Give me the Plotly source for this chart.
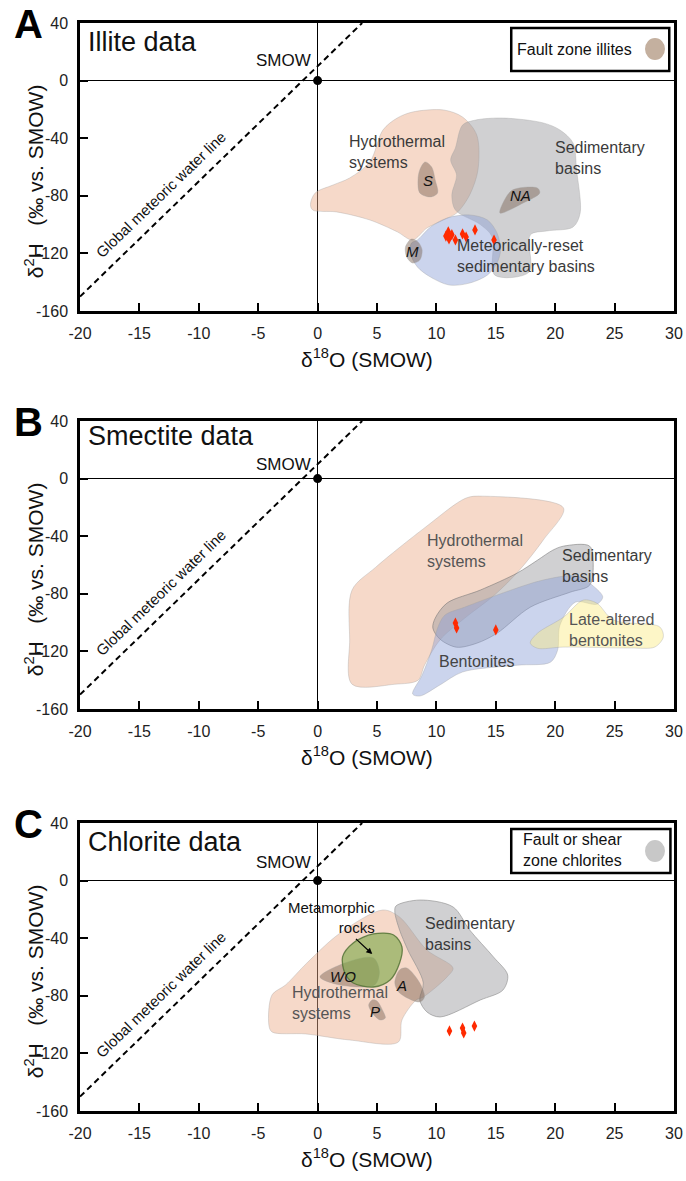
import plotly.graph_objects as go

FONT = "Liberation Sans, Arial, Helvetica, sans-serif"

# ---- axes -------------------------------------------------------------
x_range = [-20, 30]
y_range = [-160, 40]
x_ticks = [-20, -15, -10, -5, 0, 5, 10, 15, 20, 25, 30]
y_ticks = [-160, -120, -80, -40, 0, 40]
x_tick_labels = ["-20", "-15", "-10", "-5", "0", "5", "10", "15", "20", "25", "30"]
y_tick_labels = ["-160", "-120", "-80", "-40", "0", "40"]

# Global meteoric water line (dD = 8 d18O + 10), plotted between its end points
gmwl_x = [-20, 3.75]
gmwl_y = [-150, 40]

# Standard mean ocean water
smow_x = [0]
smow_y = [0]

# ---- A: illite fields (d18O, dD) -----------------------------------------
ill_hydro_x = [-0.6, -0.2, 1.3, 2.7, 4.4, 5.5, 6.7, 8.0, 10.6, 12.2, 13.4, 13.5, 12.8, 11.7, 10.6, 9.2, 8.0, 6.7, 4.4, 1.6, -0.4]
ill_hydro_y = [-86, -78, -72.5, -67.6, -56.5, -34.3, -26, -21.8, -20.4, -25.3, -37.8, -62, -79.4, -92, -96.8, -102.4, -110.7, -105, -96.8, -91.2, -89.9]

ill_sed_x = [12.2, 13.3, 15.6, 19.0, 20.4, 21.5, 21.8, 22.1, 21.5, 19.3, 17.9, 17.8, 14.9, 14.7, 13.7, 11.6, 11.3, 11.7, 11.2, 11.6]
ill_sed_y = [-30.9, -27.4, -26, -29.4, -34.3, -43.3, -62, -92, -101.7, -104.4, -107.2, -133, -135, -108.6, -100, -89.9, -79.4, -65.7, -55.1, -46.8]

ill_reset_x = [8.4, 9.5, 10.9, 12.8, 14.3, 15.1, 15.4, 15.1, 14.3, 12.8, 11.1, 9.5, 8.4, 7.8, 7.9]
ill_reset_y = [-110.7, -101.7, -95.4, -93.3, -96.8, -105.8, -117.6, -126.7, -135, -140.6, -142, -136.4, -129.4, -119.7, -112.8]

# fault zone illites: S, NA, M
ill_fault_s_x = [9.05, 9.6, 9.9, 10.1, 9.5, 8.6, 8.45, 8.6]
ill_fault_s_y = [-56.5, -60, -69, -78, -80.8, -78, -69, -62]
ill_fault_na_x = [16.4, 18.5, 18.7, 17.3, 15.35, 15.6]
ill_fault_na_y = [-76, -74.6, -78, -85, -92, -85]
ill_fault_m_x = [7.9, 8.45, 8.8, 8.6, 8.0, 7.5, 7.4]
ill_fault_m_y = [-110, -112, -117.6, -124.6, -126.7, -122.5, -115.5]

ill_samples_x = [10.8, 11.06, 11.3, 11.6, 11.0, 12.2, 12.5, 13.25, 14.85]
ill_samples_y = [-108, -110, -107, -110.7, -105, -106.5, -108.6, -103.7, -110.7]

# ---- B: smectite fields --------------------------------------------------
sme_hydro_x = [2.9, 4.9, 9.1, 12.5, 13.9, 20.7, 19.0, 17.0, 14.9, 12.4, 10.3, 9.0, 8.45, 6.5, 2.9, 2.7]
sme_hydro_y = [-77.4, -61.5, -33.6, -13.5, -12.2, -20.4, -42.6, -63.5, -80.8, -96.8, -112, -129.6, -140, -142.8, -142.8, -112]

sme_sed_x = [9.9, 10.9, 13.7, 16.8, 18.5, 19.8, 20.7, 22.9, 23.2, 22.9, 21.25, 17.9, 15.1, 13.4, 11.7, 10.3, 9.7]
sme_sed_y = [-96.9, -86.4, -77.4, -65.6, -56.7, -49.7, -46.9, -46.9, -60, -74, -78.9, -89.3, -107.4, -114.3, -117.1, -111.5, -103.8]

sme_bent_x = [8.0, 8.8, 9.6, 10.1, 10.7, 12.4, 15.6, 19.0, 21.8, 23.2, 24.0, 23.5, 21.7, 20.4, 20.2, 19.6, 16.8, 12.2, 10.3, 8.6]
sme_bent_y = [-149.6, -136.4, -119, -103.8, -94.9, -89.2, -79.4, -70.4, -67.7, -74.6, -82.2, -87.2, -85.8, -101.8, -119.2, -127.5, -129.6, -134.3, -143.3, -151]

sme_late_x = [17.9, 18.5, 20.7, 22.35, 23.5, 24.9, 28.8, 29.1, 28.4, 26.3, 20.7, 18.5]
sme_late_y = [-114.2, -107.4, -96.2, -84.4, -86.5, -98.2, -103, -110, -116.9, -117.6, -117, -117.8]

sme_samples_x = [11.6, 11.7, 15.0]
sme_samples_y = [-100.3, -103.75, -105.1]

# ---- C: chlorite fields --------------------------------------------------
chl_hydro_x = [-3.84, -4.1, -3.84, -0.98, 2.7, 6.8, 7.1, 8.3, 8.9, 10.9, 11.4, 9.2, 6.9, 5.5, 1.9, -0.9, -2.7]
chl_hydro_y = [-79.4, -100.3, -105.1, -106.5, -110.7, -112.1, -96.8, -82.9, -80.8, -66.9, -60.7, -48.2, -25.3, -20.4, -36.4, -57.2, -72.5]

chl_sed_x = [6.6, 8.6, 11.4, 12.8, 14.8, 16.0, 15.6, 13.7, 10.3, 9.2, 8.6, 8.9, 7.6, 6.9, 6.5]
chl_sed_y = [-17.6, -13.5, -18.3, -34.3, -53, -65.6, -76, -82.9, -94.7, -91.2, -82.9, -71.1, -48.2, -34.3, -21.8]

chl_meta_x = [2.1, 3.0, 4.7, 6.4, 7.1, 6.9, 6.1, 4.7, 3.0, 2.3]
chl_meta_y = [-53, -43.3, -37, -37.75, -46, -57.2, -69, -73.9, -71.1, -64.2]

# fault or shear zone chlorites: WO, A, P
chl_fault_wo_x = [0.2, 2.3, 4.7, 5.2, 4.8, 1.9]
chl_fault_wo_y = [-66.9, -57.2, -53.7, -63.5, -72.5, -72.5]
chl_fault_a_x = [6.9, 7.5, 8.6, 9.0, 8.6, 6.9, 6.5]
chl_fault_a_y = [-62, -60.7, -71.1, -80.8, -84.3, -78, -71.1]
chl_fault_p_x = [4.6, 5.0, 5.5, 5.7, 5.25, 4.6, 4.3]
chl_fault_p_y = [-82.9, -83.6, -90.6, -95.4, -96.8, -91.9, -86.4]

chl_samples_x = [11.1, 12.2, 12.3, 13.2]
chl_samples_y = [-104.4, -102.4, -105.8, -101]

# ---- colours ------------------------------------------------------------
PEACH = "rgba(235,170,135,0.45)"
GREY = "rgba(150,150,155,0.45)"
BLUE = "rgba(140,160,215,0.45)"
YELLOW = "rgba(250,235,130,0.45)"
GREEN = "rgba(125,168,75,0.62)"
FAULT = "rgba(120,95,80,0.45)"
SAMPLE = "#ff2a00"
LABEL = "#3a3a3a"

fig = go.Figure()

def field(xs, ys, fill, ax, line=None, width=1):
    """Closed, smoothed field outline drawn from its vertex lists."""
    fig.add_trace(go.Scatter(
        x=list(xs) + [xs[0]], y=list(ys) + [ys[0]],
        mode="lines", fill="toself", fillcolor=fill,
        line=dict(color=line or "rgba(160,160,160,0.35)", width=width,
                  shape="spline", smoothing=0.9),
        xaxis="x" + ax, yaxis="y" + ax, hoverinfo="skip", showlegend=False))

def samples(xs, ys, ax):
    fig.add_trace(go.Scatter(
        x=xs, y=ys, mode="markers",
        marker=dict(symbol="diamond-tall", size=8, color=SAMPLE),
        xaxis="x" + ax, yaxis="y" + ax, showlegend=False))

def gmwl_and_smow(ax):
    fig.add_trace(go.Scatter(
        x=gmwl_x, y=gmwl_y, mode="lines",
        line=dict(color="black", width=2, dash="6px,4px"),
        xaxis="x" + ax, yaxis="y" + ax, showlegend=False, hoverinfo="skip"))
    fig.add_trace(go.Scatter(
        x=smow_x, y=smow_y, mode="markers",
        marker=dict(color="black", size=9),
        xaxis="x" + ax, yaxis="y" + ax, showlegend=False))

# panel A
field(ill_hydro_x, ill_hydro_y, PEACH, "")
field(ill_sed_x, ill_sed_y, GREY, "")
field(ill_reset_x, ill_reset_y, BLUE, "")
for fx, fy in [(ill_fault_s_x, ill_fault_s_y), (ill_fault_na_x, ill_fault_na_y), (ill_fault_m_x, ill_fault_m_y)]:
    field(fx, fy, FAULT, "")
gmwl_and_smow("")
samples(ill_samples_x, ill_samples_y, "")

# panel B
field(sme_hydro_x, sme_hydro_y, PEACH, "2")
field(sme_sed_x, sme_sed_y, GREY, "2", line="rgba(110,110,110,0.5)")
field(sme_bent_x, sme_bent_y, BLUE, "2")
field(sme_late_x, sme_late_y, YELLOW, "2")
gmwl_and_smow("2")
samples(sme_samples_x, sme_samples_y, "2")

# panel C
field(chl_hydro_x, chl_hydro_y, PEACH, "3")
field(chl_sed_x, chl_sed_y, GREY, "3", line="rgba(140,140,140,0.6)")
for fx, fy in [(chl_fault_wo_x, chl_fault_wo_y), (chl_fault_a_x, chl_fault_a_y), (chl_fault_p_x, chl_fault_p_y)]:
    field(fx, fy, FAULT, "3")
field(chl_meta_x, chl_meta_y, GREEN, "3", line="rgba(85,115,55,0.85)", width=1.3)
gmwl_and_smow("3")
samples(chl_samples_x, chl_samples_y, "3")

# ---- layout --------------------------------------------------------------
W, H = 686, 1181
x_dom = [80 / W, 674 / W]
panels = {"": (23, 311), "2": (421, 709), "3": (823, 1111)}

layout = dict(width=W, height=H, margin=dict(l=0, r=0, t=0, b=0, autoexpand=False),
              paper_bgcolor="white", plot_bgcolor="white",
              font=dict(family=FONT, color="#222"), showlegend=False)

for ax, (top, bot) in panels.items():
    common = dict(showline=True, linewidth=2.5, linecolor="black", mirror=True,
                  showgrid=False, zeroline=True, zerolinecolor="black", zerolinewidth=1.2,
                  ticks="inside", ticklen=8, tickwidth=1.5, tickcolor="black",
                  tickfont=dict(size=16, family=FONT, color="#222"),
                  layer="above traces", fixedrange=True, automargin=False)
    layout["xaxis" + ax] = dict(common, domain=x_dom, range=x_range, tickvals=x_ticks,
                                ticktext=x_tick_labels, anchor="y" + ax, ticklabelstandoff=6)
    layout["yaxis" + ax] = dict(common, domain=[1 - bot / H, 1 - top / H], range=y_range,
                                tickvals=y_ticks, ticktext=y_tick_labels, anchor="x" + ax,
                                ticklabelstandoff=6)

fig.update_layout(**layout)

ann = []

def text(ax, x, y, s, size=16, xanchor="left", italic=False, color=LABEL, align="left"):
    if italic:
        s = "<i>" + s + "</i>"
    ann.append(dict(x=x, y=y, xref="x" + ax, yref="y" + ax, text=s, showarrow=False,
                    xanchor=xanchor, yanchor="middle", align=align,
                    font=dict(size=size, family=FONT, color=color)))

def common_text(ax, letter, title, title_y, smow_y_lab):
    ann.append(dict(x=-0.087, y=0.995, xref="x" + ax + " domain", yref="y" + ax + " domain",
                    text="<b>" + letter + "</b>", showarrow=False, xanchor="center", yanchor="middle",
                    font=dict(size=40, family=FONT, color="black")))
    text(ax, -19.5, title_y, title, size=27, color="#111")
    text(ax, -0.4, smow_y_lab, "SMOW", size=17, xanchor="right", color="#111")
    ann.append(dict(x=-13.2, y=-79, xref="x" + ax, yref="y" + ax, text="Global meteoric water line",
                    showarrow=False, textangle=-44, xanchor="center", yanchor="middle",
                    font=dict(size=15, family=FONT, color="#111")))
    ann.append(dict(x=0.483, y=-0.162, xref="x" + ax + " domain", yref="y" + ax + " domain",
                    text="δ<sup>18</sup>O (SMOW)", showarrow=False, xanchor="center", yanchor="middle",
                    font=dict(size=21, family=FONT, color="#111")))
    ann.append(dict(x=-0.076, y=0.45, xref="x" + ax + " domain", yref="y" + ax + " domain",
                    text="δ<sup>2</sup>H   (‰ vs. SMOW)", showarrow=False, textangle=-90,
                    xanchor="center", yanchor="middle",
                    font=dict(size=21, family=FONT, color="#111")))

# panel A text
common_text("", "A", "Illite data", 26.8, 14.3)
text("", 2.5, -49.7, "Hydrothermal<br>systems")
text("", 19.8, -53.7, "Sedimentary<br>basins")
text("", 11.6, -121.8, "Meteorically-reset<br>sedimentary basins")
text("", 9.3, -69.7, "S", size=15, xanchor="center", italic=True, color="#111")
text("", 17.1, -80.1, "NA", size=15, xanchor="center", italic=True, color="#111")
text("", 8.0, -119, "M", size=15, xanchor="center", italic=True, color="#111")

# panel B text
common_text("2", "B", "Smectite data", 29.6, 10.1)
text("2", 9.05, -50.6, "Hydrothermal<br>systems", color="#555")
text("2", 20.4, -60.7, "Sedimentary<br>basins")
text("2", 21.0, -105.3, "Late-altered<br>bentonites", color="#555")
text("2", 10.05, -126.8, "Bentonites", color="#444")

# panel C text
common_text("3", "C", "Chlorite data", 26.8, 12.9)
text("3", 5.0, -25.3, "Metamorphic<br>rocks", size=15, xanchor="right", align="right", color="#111")
text("3", -2.3, -85, "Hydrothermal<br>systems", color="#555")
text("3", 8.9, -37.1, "Sedimentary<br>basins")
text("3", 2.1, -66.9, "WO", size=15, xanchor="center", italic=True, color="#111")
text("3", 7.1, -72.5, "A", size=15, xanchor="center", italic=True, color="#111")
text("3", 4.8, -90.6, "P", size=15, xanchor="center", italic=True, color="#111")
ann.append(dict(x=4.6, y=-51, ax=3.1, ay=-39.5, xref="x3", yref="y3", axref="x3", ayref="y3",
                text="", showarrow=True, arrowhead=2, arrowsize=1, arrowwidth=1.2, arrowcolor="black"))

# legend boxes
text("", 16.6, 21.9, "Fault zone illites", size=16, color="#111")
text("3", 17.1, 21.2, "Fault or shear<br>zone chlorites", size=16, color="#111")

shapes = [
    dict(type="rect", xref="x", yref="y", x0=16.3, x1=29.6, y0=6.7, y1=36.5,
         line=dict(color="black", width=2.5), fillcolor="rgba(0,0,0,0)"),
    dict(type="circle", xref="x", yref="y", x0=27.56, x1=29.24, y0=14.3, y1=29.5,
         line=dict(width=0), fillcolor="#c4b09f"),
    dict(type="rect", xref="x3", yref="y3", x0=16.3, x1=29.7, y0=5.3, y1=35.8,
         line=dict(color="black", width=2.5), fillcolor="rgba(0,0,0,0)"),
    dict(type="circle", xref="x3", yref="y3", x0=27.56, x1=29.24, y0=13.0, y1=28.2,
         line=dict(width=0), fillcolor="#c8c8c8"),
]

fig.update_layout(annotations=ann, shapes=shapes)
fig.write_html("out.html")
